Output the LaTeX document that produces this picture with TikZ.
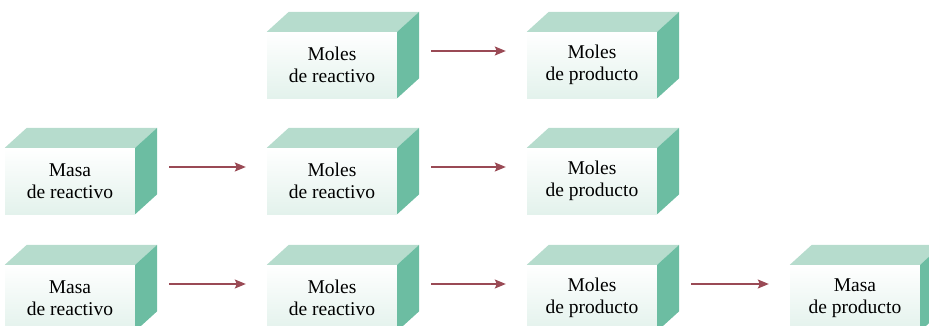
\documentclass[tikz,border=0pt]{standalone}
\usepackage{fontspec}
\setmainfont{Liberation Serif}
\usepackage{tikz}
\usepackage{xcolor}
\usetikzlibrary{positioning,arrows.meta}

\definecolor{verdefrente}{HTML}{E3F2EC}
\definecolor{verdearriba}{HTML}{B6DCCD}
\definecolor{verdelado}{HTML}{6CBDA2}
\definecolor{granate}{HTML}{9A4A55}

\begin{document}
\begin{tikzpicture}[x=1pt,y=-1pt,
    bloque/.style={minimum width=130pt,minimum height=66pt,inner sep=0pt,
      align=center,font=\fontsize{19.5}{22}\selectfont,
      top color=white,bottom color=verdefrente,shading angle=0},
    flecha/.style={granate,line width=1.5pt,-{Stealth[length=11pt,width=9pt,inset=2pt]}}]
  \useasboundingbox (0,0) rectangle (929,325);
  % --- fila 1 ---
  \node[bloque] (mr1) at (332,65) {Moles\\de reactivo};
  \node[bloque] (mp1) at (592,65) {Moles\\de producto};
  % --- fila 2 ---
  \node[bloque] (ma2) at (70,181) {Masa\\de reactivo};
  \node[bloque] (mr2) at (332,181) {Moles\\de reactivo};
  \node[bloque] (mp2) at (592,181) {Moles\\de producto};
  % --- fila 3 ---
  \node[bloque] (ma3) at (70,298) {Masa\\de reactivo};
  \node[bloque] (mr3) at (332,298) {Moles\\de reactivo};
  \node[bloque] (mp3) at (592,298) {Moles\\de producto};
  \node[bloque] (mb3) at (855,298) {Masa\\de producto};
  % caras de arriba y de lado
  \foreach \n in {mr1,mp1,ma2,mr2,mp2,ma3,mr3,mp3,mb3} {
    \fill[verdearriba] (\n.north west) -- ++(22pt,20pt) -- ([shift={(22pt,20pt)}]\n.north east) -- (\n.north east) -- cycle;
    \fill[verdelado] (\n.north east) -- ++(22pt,20pt) -- ([shift={(22pt,20pt)}]\n.south east) -- (\n.south east) -- cycle;
  }
  % flechas
  \foreach \a/\b in {mr1/mp1,ma2/mr2,mr2/mp2,ma3/mr3,mr3/mp3,mp3/mb3}
    \draw[flecha] ([xshift=34pt,yshift=14pt]\a.east) -- ([xshift=-21pt,yshift=14pt]\b.west);
\end{tikzpicture}
\end{document}
